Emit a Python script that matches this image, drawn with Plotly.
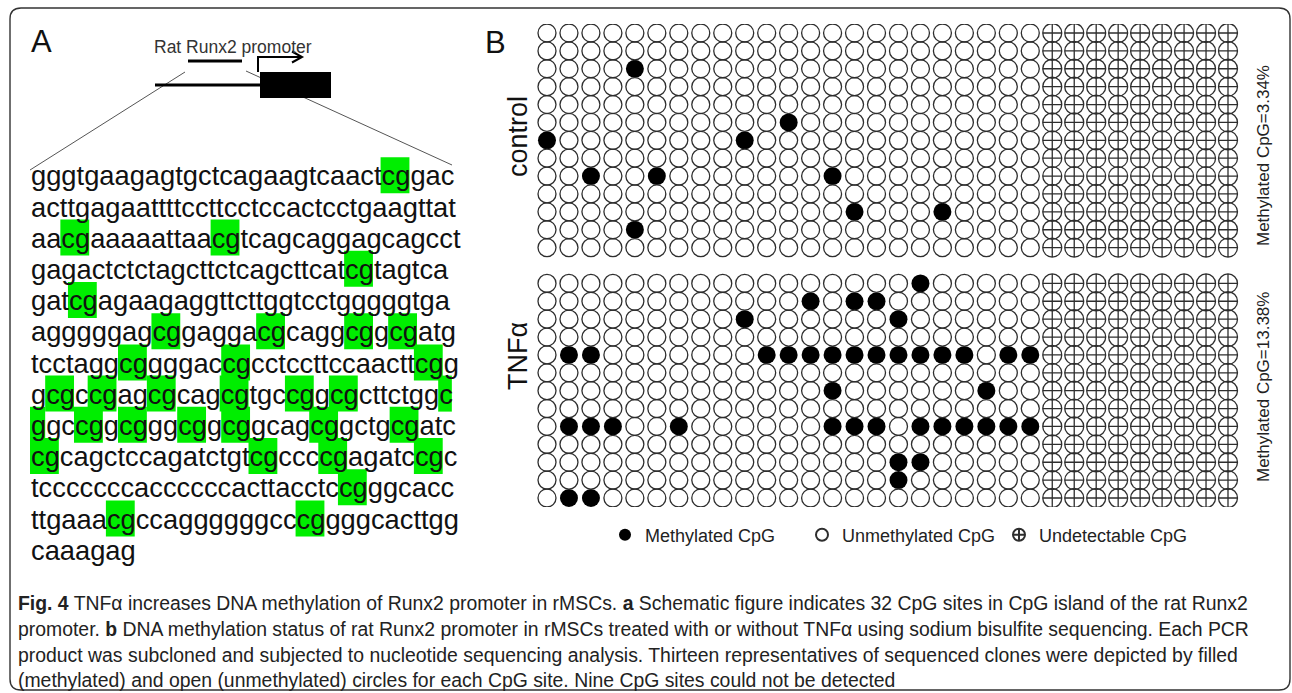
import plotly.graph_objects as go

W, H = 1292, 693

# ------------------------------------------------------------------ data
seq_lines = [
    "gggtgaagagtgctcagaagtcaactcggac",
    "acttgagaattttccttcctccactcctgaagttat",
    "aacgaaaaattaacgtcagcaggagcagcct",
    "gagactctctagcttctcagcttcatcgtagtca",
    "gatcgagaagaggttcttggtcctgggggtga",
    "agggggagcggaggacgcaggcggcgatg",
    "tcctaggcggggaccgcctccttccaacttcgg",
    "gcgccgagcgcagcgtgccggcgcttctggc",
    "ggccggcgggcggcggcagcggctgcgatc",
    "cgcagctccagatctgtcgccccgagatccgc",
    "tcccccccaccccccacttacctccgggcacc",
    "ttgaaacgccaggggggcccggggcacttgg",
    "caaagag",
]

group_names = ["control", "TNFα"]
n_clones = 13
n_detected_sites = 23
n_undetected_sites = 9

# methylated CpG sites (1-based) for each of the 13 clones
control_methylated_sites = [
    [], [], [5], [], [], [12], [1, 10], [], [3, 6, 14], [], [15, 19], [5], [],
]
tnf_methylated_sites = [
    [18],
    [13, 15, 16],
    [10, 17],
    [],
    [2, 3, 11, 12, 13, 14, 15, 16, 17, 18, 19, 20, 22, 23],
    [],
    [14, 21],
    [],
    [2, 3, 4, 7, 14, 15, 16, 18, 19, 20, 21, 22, 23],
    [],
    [17, 18],
    [17],
    [2, 3],
]

legend_labels = ["Methylated CpG", "Unmethylated CpG", "Undetectable CpG"]

caption_lines = [
    "<b>Fig. 4</b> TNFα increases DNA methylation of Runx2 promoter in rMSCs. <b>a</b> Schematic figure indicates 32 CpG sites in CpG island of the rat Runx2",
    "promoter. <b>b</b> DNA methylation status of rat Runx2 promoter in rMSCs treated with or without TNFα using sodium bisulfite sequencing. Each PCR",
    "product was subcloned and subjected to nucleotide sequencing analysis. Thirteen representatives of sequenced clones were depicted by filled",
    "(methylated) and open (unmethylated) circles for each CpG site. Nine CpG sites could not be detected",
]


# ------------------------------------------------------------------ helpers
def X(px):
    return px / W


def Y(py):
    return 1 - py / H


SANS = "Liberation Sans, Arial, sans-serif"
fig = go.Figure()
shapes = []
annotations = []


def label(text, px, py, size, color="#111", angle=0, family=SANS, xa="center", ya="middle"):
    annotations.append(dict(
        text=text, x=X(px), y=Y(py), xref="paper", yref="paper", showarrow=False,
        xanchor=xa, yanchor=ya, textangle=angle, borderpad=0,
        font=dict(family=family, size=size, color=color),
    ))


# ------------------------------------------------------------------ panel B grid
meth_x, meth_y, un_x, un_y, nd_x, nd_y = [], [], [], [], [], []
percents = []
for g, clones in enumerate([control_methylated_sites, tnf_methylated_sites]):
    offset = g * (n_clones + 1)
    count = 0
    for k, sites in enumerate(clones):
        row = offset + k + 1
        for s in range(1, n_detected_sites + 1):
            if s in sites:
                meth_x.append(s)
                meth_y.append(row)
                count += 1
            else:
                un_x.append(s)
                un_y.append(row)
        for s in range(n_detected_sites + 1, n_detected_sites + n_undetected_sites + 1):
            nd_x.append(s)
            nd_y.append(row)
    percents.append(100.0 * count / (n_clones * n_detected_sites))

fig.add_trace(go.Scatter(
    x=meth_x, y=meth_y, mode="markers", name=legend_labels[0], hoverinfo="skip",
    marker=dict(symbol="circle", size=18, color="black", line=dict(width=0)),
))
fig.add_trace(go.Scatter(
    x=un_x, y=un_y, mode="markers", name=legend_labels[1], hoverinfo="skip",
    marker=dict(symbol="circle-open", size=18, color="#2e2e2e", line=dict(width=1.3)),
))
fig.add_trace(go.Scatter(
    x=nd_x, y=nd_y, mode="markers", name=legend_labels[2], hoverinfo="skip",
    marker=dict(symbol="circle-cross-open", size=19, color="#2e2e2e", line=dict(width=1.3)),
))

n_cols = n_detected_sites + n_undetected_sites
n_rows = 2 * n_clones + 1
col_pitch = (1228 - 547) / (n_cols - 1)
row_pitch = (498 - 33) / (n_rows - 1)
gx0, gx1 = 547 - col_pitch / 2, 1228 + col_pitch / 2
gy0, gy1 = 33 - row_pitch / 2, 498 + row_pitch / 2

for g, name in enumerate(group_names):
    label(name, 518, [137, 356][g], 27, "#111", angle=-90)
    label(f"Methylated CpG={percents[g]:.2f}%", 1263, [156, 387][g], 17, "#222", angle=-90)

# ------------------------------------------------------------------ panel A sequence
FS = 27.3
ADV = {"a": 0.556, "c": 0.5, "g": 0.556, "t": 0.278}
X0 = 30
BASE0 = 186.7
PITCH = 31.2

full = "".join(seq_lines)
char_pos = []  # (line, em_start, em_end)
for li, line in enumerate(seq_lines):
    em = 0.0
    for ch in line:
        char_pos.append((li, em, em + ADV[ch]))
        em += ADV[ch]

hl = set()
for i in range(len(full) - 1):
    if full[i] == "c" and full[i + 1] == "g":
        hl.update([i, i + 1])

runs = []
for i in sorted(hl):
    li, e0, e1 = char_pos[i]
    if runs and runs[-1][0] == li and abs(runs[-1][2] - e0) < 1e-9:
        runs[-1][2] = e1
    else:
        runs.append([li, e0, e1])

for li, e0, e1 in runs:
    base = BASE0 + li * PITCH
    shapes.append(dict(
        type="rect", xref="paper", yref="paper", layer="below",
        x0=X(X0 + e0 * FS), x1=X(X0 + e1 * FS), y0=Y(base + 6.5), y1=Y(base - 29.5),
        fillcolor="#00ee00", line=dict(width=0),
    ))

for li, line in enumerate(seq_lines):
    base = BASE0 + li * PITCH
    label(line, X0, base + 0.212 * FS, FS, "#111", xa="left", ya="bottom")

# ------------------------------------------------------------------ panel A schematic
def seg(x0, y0, x1, y1, w, c):
    shapes.append(dict(type="line", xref="paper", yref="paper",
                       x0=X(x0), y0=Y(y0), x1=X(x1), y1=Y(y1), line=dict(width=w, color=c)))


seg(185, 72, 30, 170, 1, "#555")
seg(246, 71, 452, 165, 1, "#555")
seg(188, 61, 242, 61, 3, "black")
seg(155, 85, 261, 85, 3, "black")
shapes.append(dict(type="rect", xref="paper", yref="paper", x0=X(260), x1=X(331),
                   y0=Y(98), y1=Y(72), fillcolor="black", line=dict(width=0)))
shapes.append(dict(type="path", xref="paper", yref="paper",
                   path=f"M{X(258)},{Y(72)} L{X(258)},{Y(57)} L{X(301)},{Y(57)}",
                   line=dict(width=2, color="black")))
shapes.append(dict(type="path", xref="paper", yref="paper",
                   path=f"M{X(292)},{Y(51.5)} L{X(302)},{Y(57)} L{X(292)},{Y(62.5)}",
                   line=dict(width=2, color="black")))

label("Rat Runx2 promoter", 233, 47, 17.5, "#333")
label("A", 41, 42, 31)
label("B", 495, 43, 31)

# ------------------------------------------------------------------ border
bx0, by0, bx1, by1, r = 10, 8, 1290, 690, 11
border = (
    f"M{X(bx0 + r)},{Y(by0)} L{X(bx1 - r)},{Y(by0)} Q{X(bx1)},{Y(by0)} {X(bx1)},{Y(by0 + r)} "
    f"L{X(bx1)},{Y(by1 - r)} Q{X(bx1)},{Y(by1)} {X(bx1 - r)},{Y(by1)} "
    f"L{X(bx0 + r)},{Y(by1)} Q{X(bx0)},{Y(by1)} {X(bx0)},{Y(by1 - r)} "
    f"L{X(bx0)},{Y(by0 + r)} Q{X(bx0)},{Y(by0)} {X(bx0 + r)},{Y(by0)} Z"
)
shapes.append(dict(type="path", xref="paper", yref="paper", path=border,
                   line=dict(width=1.4, color="#333")))

# ------------------------------------------------------------------ caption
for i, t in enumerate(caption_lines):
    label(t, 17, [603, 629, 655, 680][i], 19.4, "#222", xa="left", ya="middle")

fig.update_layout(
    width=W, height=H, autosize=False,
    margin=dict(l=0, r=0, t=0, b=0),
    paper_bgcolor="white", plot_bgcolor="white",
    xaxis=dict(domain=[X(gx0), X(gx1)], range=[0.5, n_cols + 0.5], visible=False, fixedrange=True),
    yaxis=dict(domain=[Y(gy1), Y(gy0)], range=[n_rows + 0.5, 0.5], visible=False, fixedrange=True),
    showlegend=True,
    legend=dict(orientation="h", x=X(605), y=Y(535), xanchor="left", yanchor="middle",
                font=dict(family=SANS, size=18, color="#222"), itemsizing="constant",
                entrywidth=152, entrywidthmode="pixels",
                bgcolor="rgba(0,0,0,0)"),
    shapes=shapes,
    annotations=annotations,
)

fig.write_html("out.html", config={"displayModeBar": False},
               post_script="document.body.style.margin='0px';")
